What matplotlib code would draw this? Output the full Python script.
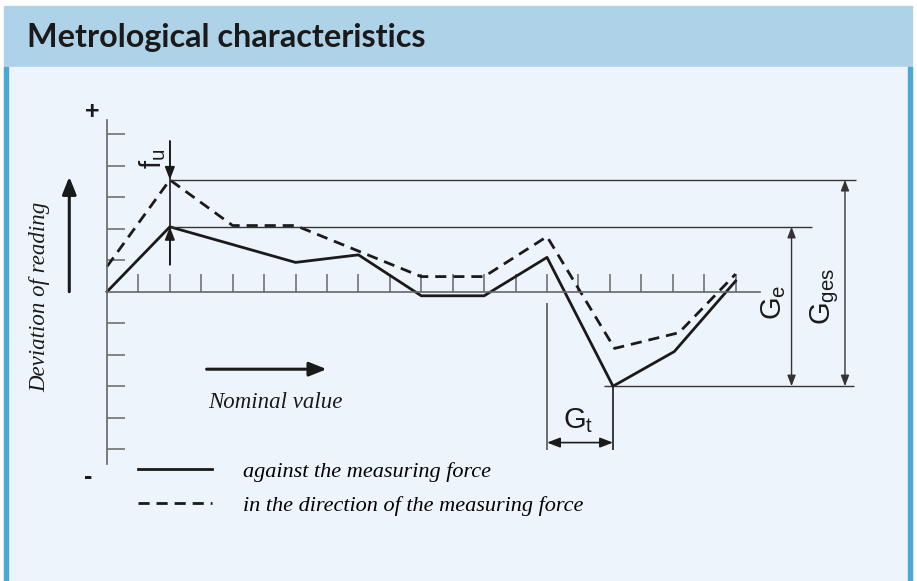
import matplotlib
matplotlib.use("Agg")
import matplotlib.pyplot as plt
from matplotlib.patches import Rectangle

# readings of the sketch, in tick units (one tick = one step)
x_against = [0, 2, 6, 8, 10, 12, 14, 16.1, 18.05, 20]
y_against = [0, 2.06, 0.93, 1.17, -0.13, -0.13, 1.09, -3.0, -1.9, 0.34]
x_direction = [0, 2, 4, 6, 10, 12, 14, 16.15, 18.2, 20]
y_direction = [0.8, 3.55, 2.1, 2.1, 0.48, 0.48, 1.75, -1.8, -1.3, 0.56]
series_labels = ["against the measuring force",
                 "in the direction of the measuring force"]
x_ticks = list(range(1, 21))
y_ticks = [-5, -4, -3, -2, -1, 1, 2, 3, 4, 5]
title = "Metrological characteristics"

# page geometry (pixels) -> data units
W, H = 917, 581
X0, Y0 = 107, 291.7
UX, UY = 31.43, 31.5

HEADER = "#AED2E8"
BODY = "#EEF4FB"
BORDER = "#4AA8D8"
INK = "#1a1a1a"
GREY = "#555555"

plt.rcParams["mathtext.fontset"] = "custom"
plt.rcParams["mathtext.rm"] = "Liberation Sans"
plt.rcParams["mathtext.it"] = "Liberation Sans:italic"


def frac(xp, yp):
    return xp / W, 1 - yp / H


fig = plt.figure(figsize=(W / 100, H / 100), dpi=100)
ax = fig.add_axes([0, 0, 1, 1])
ax.set_xlim(-X0 / UX, (W - X0) / UX)
ax.set_ylim((Y0 - H) / UY, Y0 / UY)
ax.patch.set_visible(False)

# panel background
ax.add_patch(Rectangle(frac(4, 67), 908 / W, 61 / H, color=HEADER,
                       transform=ax.transAxes, zorder=0.1))
ax.add_patch(Rectangle((4 / W, 0), 908 / W, 1 - 67 / H, color=BODY,
                       transform=ax.transAxes, zorder=0.1))
ax.add_patch(Rectangle((4 / W, 0), 4.3 / W, 1 - 67 / H, color=BORDER,
                       transform=ax.transAxes, zorder=0.2))
ax.add_patch(Rectangle((908 / W, 0), 4 / W, 1 - 67 / H, color=BORDER,
                       transform=ax.transAxes, zorder=0.2))
ax.text(*frac(27, 47), title, transform=ax.transAxes, family="Lato",
        weight="bold", size=23.3, color="#1a1a1a", va="baseline")

# axes crossing at the origin, ticks pointing inward
ax.spines["top"].set_visible(False)
ax.spines["right"].set_visible(False)
ax.spines["left"].set_position(("data", 0))
ax.spines["bottom"].set_position(("data", 0))
ax.spines["left"].set_bounds(-5.48, 5.45)
ax.spines["bottom"].set_bounds(0, 20.78)
for s in ("left", "bottom"):
    ax.spines[s].set_color("#666666")
    ax.spines[s].set_linewidth(1.2)
ax.set_xticks(x_ticks)
ax.set_yticks(y_ticks)
ax.tick_params(direction="in", length=13, width=1.1, color="#666666",
               labelbottom=False, labelleft=False)

# the two curves
ax.plot(x_against, y_against, color=INK, lw=2, label=series_labels[0])
ax.plot(x_direction, y_direction, color=INK, lw=2, ls=(0, (4, 2.5)),
        label=series_labels[1])

top = max(y_direction)
mid = max(y_against)
low = min(y_against)
x_peak = x_against[y_against.index(mid)]
i_low = y_against.index(low)
x_low = x_against[i_low]
x_before = x_against[i_low - 1]

ax.hlines(top, x_peak, 23.82, color="#333333", lw=1)
ax.hlines(mid, x_peak, 22.43, color="#333333", lw=1)
ax.hlines(low, x_low - 0.3, 23.77, color="#333333", lw=1)

small = dict(lw=1, color="#333333", shrinkA=0, shrinkB=0, mutation_scale=10)
ax.annotate("", xy=(21.78, mid), xytext=(21.78, low),
            arrowprops=dict(arrowstyle="<|-|>,head_length=0.65,head_width=0.25", **small))
ax.annotate("", xy=(23.48, top), xytext=(23.48, low),
            arrowprops=dict(arrowstyle="<|-|>,head_length=0.65,head_width=0.25", **small))

# f_u marker
med = dict(lw=1.2, color=INK, shrinkA=0, shrinkB=0, mutation_scale=12)
ax.vlines(x_peak, 0.85, 4.79, color=INK, lw=1.2)
ax.annotate("", xy=(x_peak, top), xytext=(x_peak, 4.79),
            arrowprops=dict(arrowstyle="-|>,head_length=0.65,head_width=0.25", **med))
ax.annotate("", xy=(x_peak, mid), xytext=(x_peak, 0.85),
            arrowprops=dict(arrowstyle="-|>,head_length=0.65,head_width=0.25", **med))

# G_t marker
ax.vlines(x_before, -5.03, -0.36, color=GREY, lw=1.2)
ax.vlines(x_low, -5.03, low, color=INK, lw=1.2)
ax.annotate("", xy=(x_low, -4.79), xytext=(x_before, -4.79),
            arrowprops=dict(arrowstyle="<|-|>,head_length=0.65,head_width=0.25", **med))

sans = dict(family="Liberation Sans", size=21, color=INK, ha="center", va="center")
ax.text(21.2, -0.34, r"$\mathregular{G_e}$", rotation=90, **sans)
ax.text(22.85, -0.14, r"$\mathregular{G_{ges}}$", rotation=90, **sans)
ax.text(1.46, 4.22, r"$\mathregular{f_u}$", rotation=90, **sans)
ax.text(15.0, -4.1, r"$\mathregular{G_t}$", **sans)
ax.text(-0.48, 5.70, "+", family="Liberation Sans", size=18, weight="bold",
        ha="center", va="center", color=INK)
ax.text(-0.60, -5.88, "-", family="Liberation Sans", size=18, weight="bold",
        ha="center", va="center", color=INK)

# axis captions with big arrows
big = dict(arrowstyle="-|>,head_length=0.7,head_width=0.28", mutation_scale=15,
           lw=2.2, color=INK, shrinkA=0, shrinkB=0)
ax.annotate("", xy=(-1.2, 3.65), xytext=(-1.2, 0), arrowprops=big)
ax.annotate("", xy=(6.99, -2.46), xytext=(3.17, -2.46), arrowprops=big)
serif = dict(family="Liberation Serif", style="italic", size=16.5, color=INK)
ax.text(-2.13, -0.15, "Deviation of reading", rotation=90, ha="center",
        va="center", **serif)
ax.text(3.21, -3.69, "Nominal value", ha="left", va="baseline", **serif)

ax.legend(loc="upper left", bbox_to_anchor=frac(138, 461),
          bbox_transform=ax.transAxes, frameon=False,
          prop=dict(family="Liberation Serif", style="italic", size=16),
          handlelength=3.32, handletextpad=1.41, labelspacing=0.62,
          borderpad=0, borderaxespad=0)

fig.savefig("out.png", dpi=100)
